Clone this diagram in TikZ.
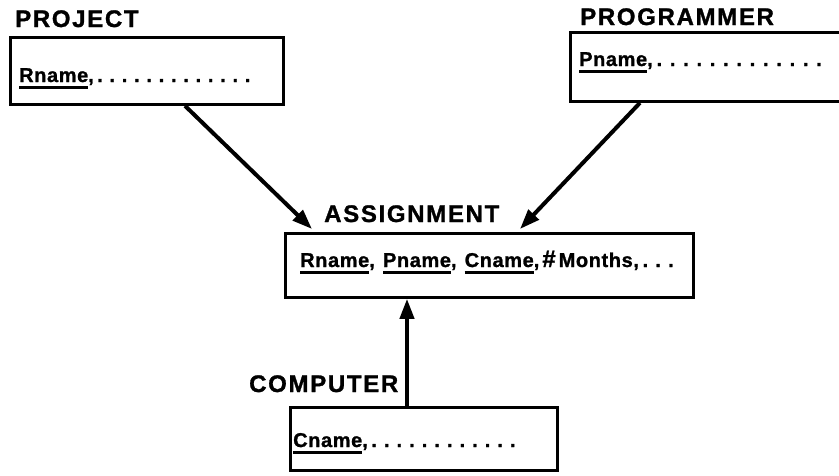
\documentclass[tikz,border=0pt]{standalone}
\usepackage{fontspec}
\setmainfont{Liberation Sans}
\newfontfamily\titlefont{Liberation Sans}[LetterSpace=7, BoldFeatures={FakeBold=1.2}]
\newfontfamily\attrfont{Liberation Sans}[LetterSpace=3, BoldFeatures={FakeBold=1.2}]
\usetikzlibrary{arrows.meta,calc}

% key attribute: thick rule under the name
\newcommand\keyattr[1]{\setbox0=\hbox{#1}\rlap{\rule[-6.5pt]{\wd0}{2.6pt}}\box0}
% run of spaced dots after the attribute list
\newcommand\dotrun[2]{\foreach\i in {1,...,#1}{\hbox to #2{\hss.\hss}}}

\tikzset{
  x=1pt, y=-1pt,
  entity/.style={draw, line width=2.8pt, anchor=north west, inner sep=0pt},
  title/.style={anchor=base west, inner sep=0pt, font=\titlefont\bfseries\fontsize{24}{27}\selectfont},
  attrs/.style={anchor=base west, inner sep=0pt, font=\attrfont\bfseries\fontsize{20}{23}\selectfont},
  conn/.style={line width=4pt, -{Triangle[length=20pt,width=14pt]}}
}

\begin{document}
\begin{tikzpicture}
\fill[white] (0,0) rectangle (839,475);
\useasboundingbox (0,0) rectangle (839,475);

% entity boxes
\node[entity, minimum width=273pt, minimum height=67pt] (proj) at (9,36) {};
\node[entity, minimum width=290pt, minimum height=69pt] (prog) at (569,31) {};
\node[entity, minimum width=408pt, minimum height=64pt] (asg)  at (284,232) {};
\node[entity, minimum width=267pt, minimum height=63pt] (comp) at (289,406) {};

% entity names
\node[title] (projname) at (15,27)  {PROJECT};
\node[title] (progname) at (580,25) {PROGRAMMER};
\node[title] (asgname)  at (324,222) {ASSIGNMENT};
\node[title] (compname) at (249,392) {COMPUTER};

% attribute lists
\node[attrs] (projattr) at (19,82)  {\keyattr{Rname},\dotrun{13}{12.3pt}};
\node[attrs] (progattr) at (579,66) {\keyattr{Pname},\dotrun{13}{13.3pt}};
\node[attrs] (asgattr)  at (300,267) {\keyattr{Rname},\hspace{2pt} \keyattr{Pname},\hspace{2pt} \keyattr{Cname},\hspace{3pt}{\fontsize{24}{24}\selectfont\#}\hspace{3pt}Months,\dotrun{3}{12.8pt}};
\node[attrs] (compattr) at (293,447) {\keyattr{Cname},\dotrun{12}{12.6pt}};

% relationships
\draw[conn] ([xshift=176pt]proj.south west) -- ([xshift=28pt,yshift=3pt]asg.north west);
\draw[conn] ([xshift=71pt]prog.south west) -- ([xshift=236pt,yshift=3pt]asg.north west);
\coordinate (cstart) at ([xshift=118pt]comp.north west);
\draw[conn] (cstart) -- (cstart |- asg.south);
\end{tikzpicture}
\end{document}
